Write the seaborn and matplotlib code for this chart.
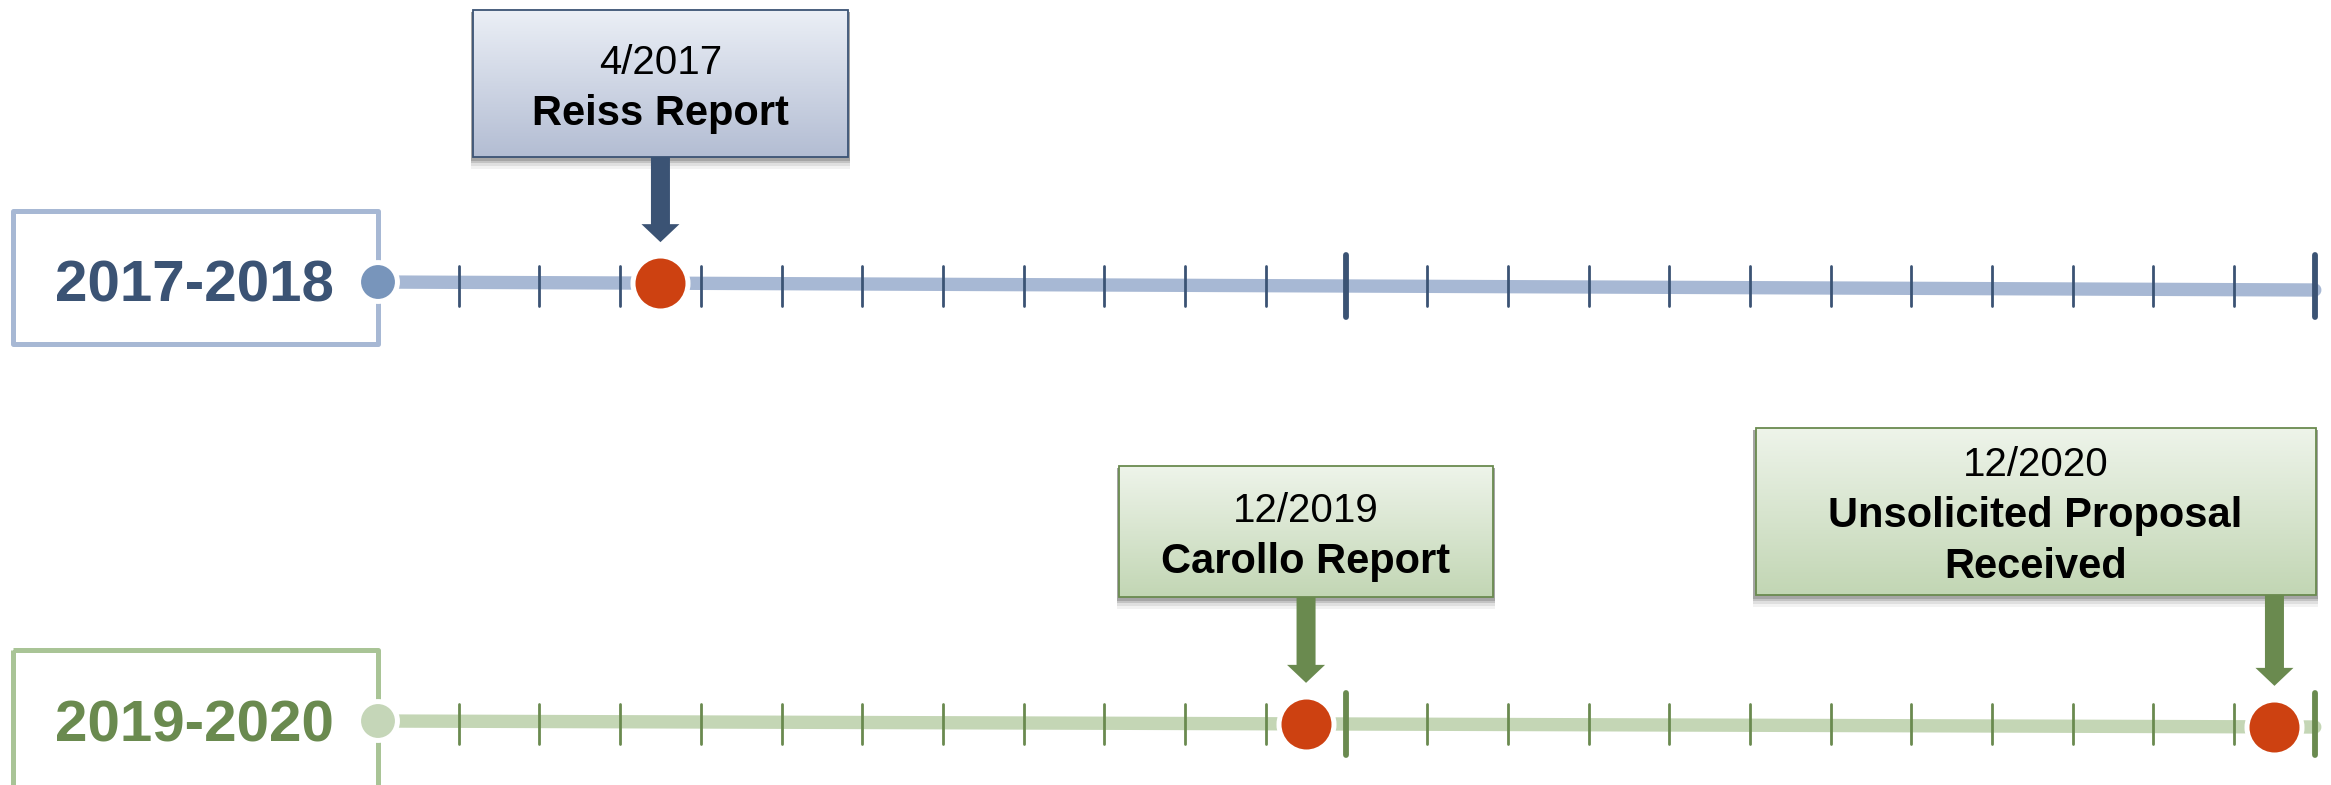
import numpy as np
import pandas as pd
import matplotlib
matplotlib.use("Agg")
import matplotlib.pyplot as plt
from matplotlib.patches import Rectangle, FancyArrow
from matplotlib.colors import LinearSegmentedColormap
import seaborn as sns

sns.set_theme(style="white")
plt.rcParams["font.family"] = ["Liberation Sans", "DejaVu Sans"]

# two-year periods, one timeline row each
periods = ["2017-2018", "2019-2020"]
period_start = [2017, 2019]
months_per_row = 24

# milestones
event_dates = ["4/2017", "12/2019", "12/2020"]
event_titles = ["Reiss Report", "Carollo Report", "Unsolicited Proposal\nReceived"]

# styles per row
line_col = ["#A7B8D4", "#C4D6B5"]
dark_col = ["#3B5374", "#6A8A4F"]
start_col = ["#7895BB", "#C5D6B8"]
box_edge = ["#A7B8D4", "#A9C496"]
grad_cols = [("#EBEFF6", "#B3BDD3"), ("#EEF4EA", "#C2D6B4")]
red = "#CD4111"

# layout (pixels)
W, H = 2331, 785
STEP = 80.7      # px per month
X0 = 378         # px of month 0
row_y = [282, 721]
tilt = [8, 6]
box_top = [10, 466, 428]
box_bot = [157, 597, 595]
box_w = [375, 374, 560]
box_align = ["center", "center", "right"]


def month_pos(date):
    m, y = map(int, date.split("/"))
    row = [i for i, s in enumerate(period_start) if s <= y < s + 2][0]
    return row, (y - period_start[row]) * 12 + m - 0.5


fig = plt.figure(figsize=(W / 100, H / 100), dpi=100)
ax = fig.add_axes([0, 0, 1, 1])
xlim = (-X0 / STEP, (W - X0) / STEP)
ylim = (H, 0)

# timeline bars
lines = pd.DataFrame({
    "month": [0, months_per_row] * 2,
    "y": [row_y[0], row_y[0] + tilt[0], row_y[1], row_y[1] + tilt[1]],
    "row": [periods[0], periods[0], periods[1], periods[1]],
})
sns.lineplot(data=lines, x="month", y="y", hue="row", palette=line_col,
             linewidth=9.6, legend=False, estimator=None, sort=False,
             ax=ax, zorder=2)

# month ticks
for r in range(2):
    yc = row_y[r] + tilt[r] / 2
    minor = [m for m in range(1, months_per_row) if m % 12 != 0]
    major = [12, 24]
    ax.vlines(minor, yc - 20, yc + 20, color=dark_col[r], lw=2.0,
              capstyle="round", zorder=3)
    ax.vlines(major, yc - 31, yc + 31, color=dark_col[r], lw=4.2,
              capstyle="round", zorder=3)

    # period label box
    ax.add_patch(Rectangle((-4.52, row_y[r] - 71), 4.52, 133 if r == 0 else 200,
                           fill=False, edgecolor=box_edge[r], lw=3.6,
                           joinstyle="round", zorder=4))
    ax.text(-2.27, row_y[r] + 20, periods[r], ha="center", va="baseline",
            fontsize=42, fontweight="bold", color=dark_col[r], zorder=6)

# start dots
sns.scatterplot(x=[0, 0], y=row_y, hue=periods, palette=start_col, s=784,
                edgecolor="white", linewidth=3.6, legend=False, ax=ax, zorder=5)

# events
ev = [month_pos(d) for d in event_dates]
ev_row = [e[0] for e in ev]
ev_month = [e[1] for e in ev]
ev_y = [row_y[r] + tilt[r] * m / months_per_row for r, m in zip(ev_row, ev_month)]
sns.scatterplot(x=ev_month, y=ev_y, color=red, s=1568, edgecolor="white",
                linewidth=3.6, legend=False, ax=ax, zorder=6)

for i, (date, title) in enumerate(zip(event_dates, event_titles)):
    r, m = ev_row[i], ev_month[i]
    w = box_w[i] / STEP
    if box_align[i] == "right":
        x1 = months_per_row + 0.01
        x0 = x1 - w
    else:
        x0, x1 = m - w / 2, m + w / 2
    y0, y1 = box_top[i], box_bot[i]

    # soft shadow below the box
    for k, a in [(10, 0.05), (7, 0.08), (4, 0.12), (2, 0.15)]:
        ax.add_patch(Rectangle((x0 - 0.03, y0 + 2), (x1 - x0) + 0.06, (y1 - y0) + k,
                               facecolor="black", edgecolor="none", alpha=a, zorder=7))
    # gradient fill
    cmap = LinearSegmentedColormap.from_list("g", list(grad_cols[r]))
    grad = np.linspace(0, 1, 256)[:, None]
    ax.imshow(grad, extent=(x0, x1, y1, y0), origin="upper", cmap=cmap,
              aspect="auto", interpolation="bicubic", zorder=8)
    ax.add_patch(Rectangle((x0, y0), x1 - x0, y1 - y0, fill=False,
                           edgecolor=dark_col[r], lw=1.3, zorder=9))

    # text lines
    txt = [(date, "normal", 29)] + [(t, "bold", 30) for t in title.split("\n")]
    n = len(txt)
    yc = (y0 + y1) / 2 + 16
    xc = (x0 + x1) / 2
    for j, (s, wgt, fs) in enumerate(txt):
        ax.text(xc, yc + (j - (n - 1) / 2) * 51, s, ha="center", va="baseline",
                fontsize=fs, fontweight=wgt, color="black", zorder=10)

    # arrow down to the milestone
    tip = ev_y[i] - 41
    ax.add_patch(FancyArrow(m, y1, 0, tip - y1, width=19 / STEP,
                            head_width=38 / STEP, head_length=18,
                            length_includes_head=True, color=dark_col[r],
                            lw=0, zorder=7))

ax.set_xlim(*xlim)
ax.set_ylim(*ylim)
ax.axis("off")
fig.savefig("out.png", dpi=100)
